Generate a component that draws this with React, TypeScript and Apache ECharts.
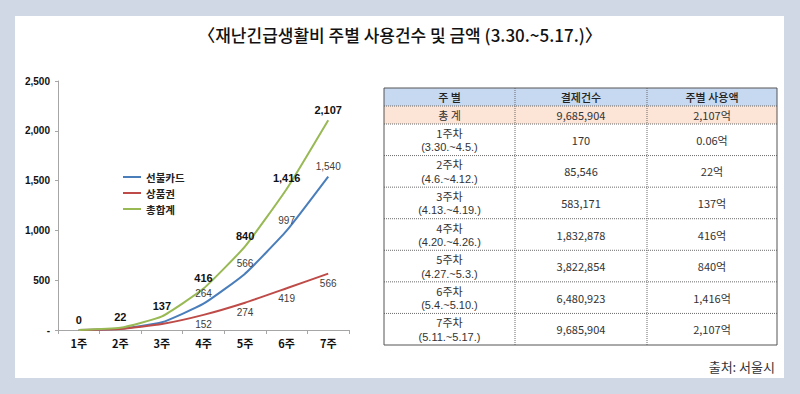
import React, { useEffect, useRef } from "react";
import * as echarts from "echarts";

const weeks = ["1주", "2주", "3주", "4주", "5주", "6주", "7주"];
const prepaidCard = [0.05, 12, 77, 264, 566, 997, 1540];
const giftCert = [0.01, 10, 60, 152, 274, 419, 566];
const totalAmount = [0.06, 22, 137, 416, 840, 1416, 2107];
const seriesNames = ["선불카드", "상품권", "총합계"];

const tableHeader = ["주 별", "결제건수", "주별 사용액"];
const totalRow = ["총 계", "9,685,904", "2,107억"];
const weekLabels = ["1주차", "2주차", "3주차", "4주차", "5주차", "6주차", "7주차"];
const weekPeriods = [
  "(3.30.~4.5.)",
  "(4.6.~4.12.)",
  "(4.13.~4.19.)",
  "(4.20.~4.26.)",
  "(4.27.~5.3.)",
  "(5.4.~5.10.)",
  "(5.11.~5.17.)",
];
const payCounts = ["170", "85,546", "583,171", "1,832,878", "3,822,854", "6,480,923", "9,685,904"];
const weeklyAmounts = ["0.06억", "22억", "137억", "416억", "840억", "1,416억", "2,107억"];

const titleText = "〈재난긴급생활비 주별 사용건수 및 금액 (3.30.~5.17.)〉";
const sourceText = "출처: 서울시";

const KR = "'Noto Sans CJK KR', 'Noto Sans', sans-serif";
const AR = "Arial, 'Liberation Sans', 'Noto Sans CJK KR', sans-serif";

function fmt(v: number) {
  return Math.round(v).toLocaleString("en-US");
}

function buildTable() {
  const els: any[] = [];
  const xs = [384, 515, 647, 777];
  const hTop = 88;
  const hBot = 106;
  const tBot = 124;
  const bottom = 345;
  const rowH = (bottom - tBot) / weekLabels.length;
  const ys = [hTop, hBot, tBot];
  for (let i = 1; i <= weekLabels.length; i++) ys.push(tBot + rowH * i);

  els.push({ type: "rect", shape: { x: xs[0], y: hTop, width: xs[3] - xs[0], height: hBot - hTop }, style: { fill: "#c6d9f1" } });
  els.push({ type: "rect", shape: { x: xs[0], y: hBot, width: xs[3] - xs[0], height: tBot - hBot }, style: { fill: "#fce4d6" } });

  for (let i = 1; i < ys.length - 1; i++) {
    els.push({
      type: "line",
      shape: { x1: xs[0], y1: ys[i], x2: xs[3], y2: ys[i] },
      style: { stroke: "#6b6b6b", lineWidth: 1, lineDash: [1, 1] },
    });
  }
  for (let j = 1; j < 3; j++) {
    els.push({
      type: "line",
      shape: { x1: xs[j], y1: hTop, x2: xs[j], y2: bottom },
      style: { stroke: "#6b6b6b", lineWidth: 1, lineDash: [1, 1] },
    });
  }
  els.push({
    type: "rect",
    shape: { x: xs[0], y: hTop, width: xs[3] - xs[0], height: bottom - hTop },
    style: { fill: "none", stroke: "#555", lineWidth: 1 },
  });

  const cx = [(xs[0] + xs[1]) / 2, (xs[1] + xs[2]) / 2, (xs[2] + xs[3]) / 2];
  const txt = (t: string, x: number, y: number, weight: string = "normal", color = "#333", family = KR) => ({
    type: "text",
    style: {
      text: t,
      x,
      y,
      align: "center",
      verticalAlign: "middle",
      fontFamily: family,
      fontSize: 11,
      fontWeight: weight,
      fill: color,
    },
  });
  tableHeader.forEach((t, j) => els.push(txt(t, cx[j], (hTop + hBot) / 2, "500", "#222")));
  totalRow.forEach((t, j) => els.push(txt(t, cx[j], (hBot + tBot) / 2)));
  weekLabels.forEach((w, i) => {
    const c = tBot + rowH * i + rowH / 2;
    els.push(txt(w, cx[0], c - 7));
    els.push(txt(weekPeriods[i], cx[0], c + 7.5, "normal", "#333", AR));
    els.push(txt(payCounts[i], cx[1], c));
    els.push(txt(weeklyAmounts[i], cx[2], c));
  });
  return els;
}

export default function App() {
  const ref = useRef<HTMLDivElement>(null);
  useEffect(() => {
    if (!ref.current) return;
    const chart = echarts.init(ref.current, null, { renderer: "svg" });
    const labelStyleSub = (pos: string) => ({
      show: true,
      position: pos,
      distance: 5,
      fontFamily: AR,
      fontSize: 10,
      color: "#404040",
      formatter: (p: any) => fmt(p.value),
    });
    const subData = (arr: number[], pos: string) =>
      arr.map((v, i) => ({ value: v, label: i >= 3 ? labelStyleSub(pos) : { show: false } }));

    const common = {
      type: "line",
      showSymbol: true,
      symbol: "circle",
      symbolSize: 0,
      lineStyle: { width: 2 },
      smooth: 0.15,
      emphasis: { disabled: true },
    };

    chart.setOption({
      animation: false,
      backgroundColor: "#cfd8e4",
      graphic: [
        { type: "rect", z: -10, shape: { x: 15, y: 16, width: 769, height: 362 }, style: { fill: "#ffffff" } },
        {
          type: "text",
          style: {
            text: titleText,
            x: 400,
            y: 34,
            align: "center",
            verticalAlign: "middle",
            fontFamily: KR,
            fontSize: 17,
            fontWeight: "500",
            fill: "#111",
          },
        },
        {
          type: "text",
          style: {
            text: sourceText,
            x: 775,
            y: 366,
            align: "right",
            verticalAlign: "middle",
            fontFamily: KR,
            fontSize: 13,
            fill: "#333",
          },
        },
        ...buildTable(),
      ],
      legend: {
        orient: "vertical",
        left: 118,
        top: 166,
        icon: "rect",
        itemWidth: 18,
        itemHeight: 2,
        itemGap: 4,
        data: seriesNames,
        textStyle: { fontFamily: KR, fontSize: 10.5, lineHeight: 12, fontWeight: "bold", color: "#222" },
      },
      grid: { left: 58, right: 451, top: 81, bottom: 64, containLabel: false },
      xAxis: {
        type: "category",
        data: weeks,
        axisLine: { lineStyle: { color: "#a6a6a6" } },
        axisTick: { show: true, length: 4, lineStyle: { color: "#a6a6a6" } },
        axisLabel: { margin: 7, fontFamily: KR, fontSize: 11, fontWeight: "bold", color: "#111" },
      },
      yAxis: {
        type: "value",
        min: 0,
        max: 2500,
        interval: 500,
        splitLine: { show: false },
        axisLine: { show: true, lineStyle: { color: "#a6a6a6" } },
        axisTick: { show: true, length: 3, lineStyle: { color: "#a6a6a6" } },
        axisLabel: {
          margin: 8,
          fontFamily: AR,
          fontSize: 10,
          fontWeight: "bold",
          color: "#111",
          formatter: (v: number) => (v === 0 ? "-" : fmt(v)),
        },
      },
      series: [
        { ...common, name: seriesNames[0], data: subData(prepaidCard, "top"), color: "#4a7ebb" },
        { ...common, name: seriesNames[1], data: subData(giftCert, "bottom"), color: "#be4b48" },
        {
          ...common,
          name: seriesNames[2],
          data: totalAmount,
          color: "#98b954",
          label: {
            show: true,
            position: "top",
            distance: 5,
            fontFamily: AR,
            fontSize: 11,
            fontWeight: "bold",
            color: "#111",
            formatter: (p: any) => fmt(p.value),
          },
        },
      ],
    });
    return () => chart.dispose();
  }, []);
  return <div ref={ref} style={{ position: "fixed", left: 0, top: 0, width: 800, height: 394 }} />;
}
